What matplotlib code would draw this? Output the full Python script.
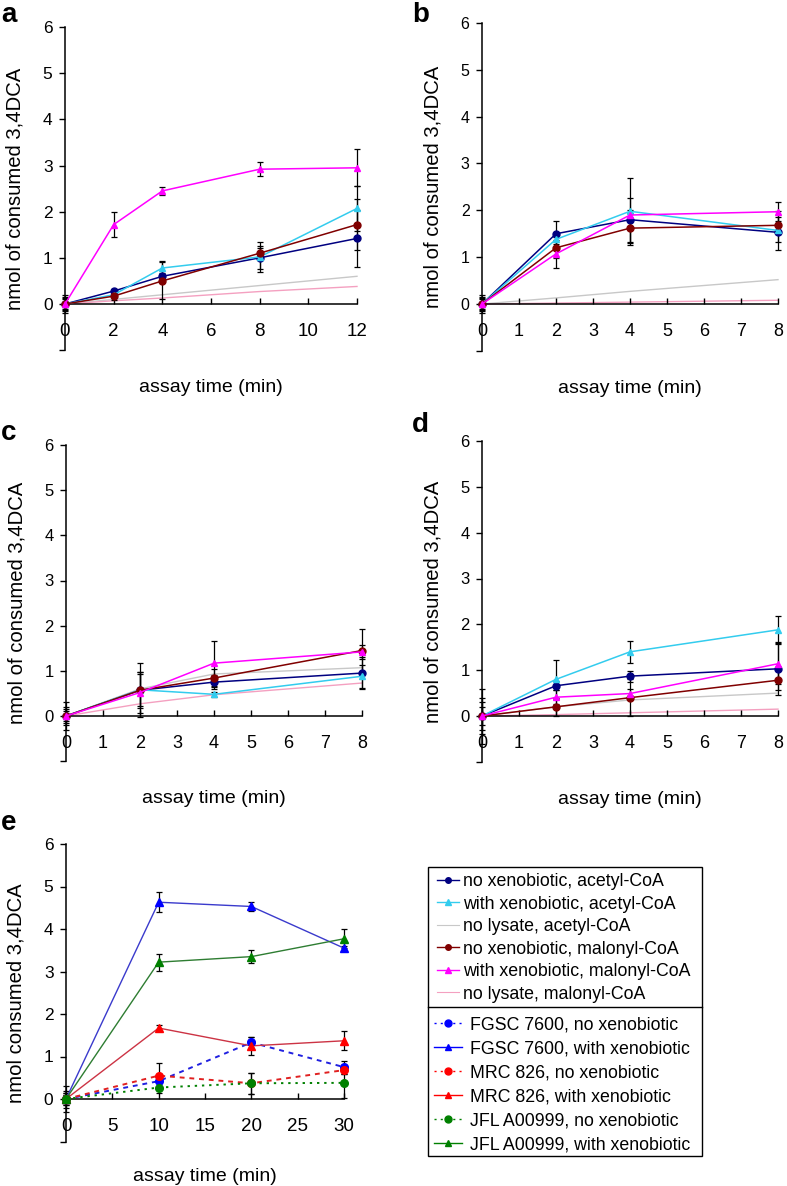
import matplotlib
matplotlib.use("Agg")
import matplotlib.pyplot as plt
from matplotlib.lines import Line2D
from matplotlib.patches import Rectangle

plt.rcParams['font.family'] = ['Liberation Sans', 'DejaVu Sans']

# series of panels a-d (same order in every panel)
series_labels = ["no xenobiotic, acetyl-CoA", "with xenobiotic, acetyl-CoA",
                 "no lysate, acetyl-CoA", "no xenobiotic, malonyl-CoA",
                 "with xenobiotic, malonyl-CoA", "no lysate, malonyl-CoA"]

time_a = [0, 2, 4, 8, 12]
time_bcd = [0, 2, 4, 8]

vals_a = [[0, 0.28, 0.60, 1.00, 1.42],
          [0, 0.20, 0.78, 1.02, 2.07],
          [0, 0.10, 0.20, 0.40, 0.60],
          [0, 0.17, 0.50, 1.10, 1.72],
          [0, 1.72, 2.45, 2.92, 2.95],
          [0, 0.07, 0.13, 0.27, 0.38]]
err_a = [[0.20, 0.05, 0.08, 0.25, 0.62],
         [0.15, 0.05, 0.15, 0.32, 0.48],
         None,
         [0.10, 0.08, 0.40, 0.12, 0.55],
         [0.12, 0.27, 0.08, 0.15, 0.40],
         None]

vals_b = [[0, 1.50, 1.80, 1.53],
          [0, 1.38, 1.98, 1.57],
          [0, 0.13, 0.27, 0.52],
          [0, 1.20, 1.62, 1.68],
          [0, 1.07, 1.90, 1.97],
          [0, 0.02, 0.04, 0.08]]
err_b = [[0.20, 0.28, 0.47, 0.20],
         [0.15, 0.10, 0.72, 0.42],
         None,
         [0.12, 0.22, 0.32, 0.18],
         [0.10, 0.30, 0.10, 0.20],
         None]

vals_c = [[0, 0.57, 0.75, 0.95],
          [0, 0.58, 0.48, 0.88],
          [0, 0.60, 0.93, 1.07],
          [0, 0.57, 0.84, 1.45],
          [0, 0.52, 1.17, 1.42],
          [0, 0.27, 0.47, 0.73]]
err_c = [[0.20, 0.35, 0.15, 0.35],
         [0.15, 0.40, 0.05, 0.25],
         None,
         [0.32, 0.60, 0.20, 0.47],
         [0.10, 0.45, 0.50, 0.15],
         None]

vals_d = [[0, 0.66, 0.87, 1.03],
          [0, 0.80, 1.40, 1.88],
          [0, 0.20, 0.35, 0.50],
          [0, 0.20, 0.40, 0.78],
          [0, 0.41, 0.49, 1.14],
          [0, 0.03, 0.07, 0.15]]
err_d = [[0.40, 0.10, 0.12, 0.58],
         [0.30, 0.42, 0.24, 0.30],
         None,
         [0.60, 0.20, 0.40, 0.22],
         [0.20, 0.15, 0.10, 0.45],
         None]

series_colors = ['#000080', '#33CCEE', '#C8C8C8', '#800000', '#FF00FF', '#F4A0C0']
series_markers = ['o', '^', None, 'o', '^', None]

# panel e
strain_labels = ["FGSC 7600, no xenobiotic", "FGSC 7600, with xenobiotic",
                 "MRC 826, no xenobiotic", "MRC 826, with xenobiotic",
                 "JFL A00999, no xenobiotic", "JFL A00999, with xenobiotic"]
time_e = [0, 10, 20, 30]
vals_e = [[0, 0.42, 1.33, 0.75],
          [0, 4.63, 4.53, 3.55],
          [0, 0.55, 0.37, 0.68],
          [0, 1.67, 1.25, 1.37],
          [0, 0.27, 0.37, 0.38],
          [0, 3.22, 3.35, 3.77]]
err_e = [[0.15, 0.05, 0.12, 0.15],
         [0.10, 0.23, 0.10, 0.05],
         [0.10, 0.30, 0.25, 0.10],
         [0.20, 0.08, 0.22, 0.22],
         [0.30, 0.12, 0.25, 0.36],
         [0.15, 0.20, 0.15, 0.22]]
strain_marker_colors = ['#0000FF', '#0000FF', '#FF0000', '#FF0000', '#008000', '#008000']
strain_line_colors = ['#2020E0', '#3A3ACC', '#E02020', '#CC3344', '#008000', '#2E7D32']
strain_markers = ['o', '^', 'o', '^', 'o', '^']
strain_styles = [(0, (2.5, 2.5)), '-', (0, (2.5, 2.5)), '-', (0, (1.2, 2.5)), '-']

fig = plt.figure(figsize=(7.87, 11.86), dpi=100)
W, H = 787.0, 1186.0


def make_ax(x0, x1, ytop, yzero):
    # pixel geometry -> axes covering y from -1 to 6
    unit = (yzero - ytop) / 6.0
    ybot = yzero + unit
    return fig.add_axes([x0 / W, 1 - ybot / H, (x1 - x0) / W, (ybot - ytop) / H])


def style(ax, xmax, xticks, fs_y, fs_x, ylabel, ylab_x):
    ax.set_xlim(0, xmax)
    ax.set_ylim(-1, 6)
    for s in ['top', 'right']:
        ax.spines[s].set_visible(False)
    ax.spines['bottom'].set_position(('data', 0))
    ax.spines['left'].set_linewidth(1.1)
    ax.spines['bottom'].set_linewidth(1.1)
    ax.set_yticks(range(-1, 7))
    ax.set_yticklabels([''] + [str(i) for i in range(7)])
    ax.set_xticks(xticks)
    ax.tick_params(axis='y', direction='out', length=4, width=1, labelsize=fs_y, pad=5)
    ax.tick_params(axis='x', direction='in', length=4, width=1, labelsize=fs_x, pad=14)
    ax.set_ylabel(ylabel, fontsize=14.6)
    ax.yaxis.set_label_coords(ylab_x, 0.5)
    ax.set_xlabel("assay time (min)", fontsize=14)
    ax.xaxis.set_label_coords(0.5, -0.09)


def draw_panel(ax, t, vals, errs):
    for v, e, c, m in zip(vals, errs, series_colors, series_markers):
        if e is not None:
            ax.errorbar(t, v, yerr=e, fmt='none', ecolor='black', elinewidth=0.9,
                        capsize=2, capthick=0.9, zorder=2, clip_on=False)
    for v, c, m in zip(vals, series_colors, series_markers):
        if m is None:
            ax.plot(t, v, color=c, lw=1.0, zorder=1, clip_on=False)
        else:
            ax.plot(t, v, color=c, lw=1.1, marker=m, ms=5, zorder=3, clip_on=False)


ax_a = make_ax(65, 357, 27, 304)
ax_b = make_ax(482, 778, 23, 304)
ax_c = make_ax(66, 362, 445, 716)
ax_d = make_ax(482, 778, 441, 716)
ax_e = make_ax(66, 344, 844, 1099)

style(ax_a, 12, [0, 2, 4, 6, 8, 10, 12], 12.5, 13.5, "nmol of consumed 3,4DCA", -0.137)
style(ax_b, 8, range(9), 11.5, 13, "nmol of consumed 3,4DCA", -0.135)
style(ax_c, 8, range(9), 12, 13, "nmol of consumed 3,4DCA", -0.135)
style(ax_d, 8, range(9), 12, 13, "nmol of consumed 3,4DCA", -0.135)
style(ax_e, 30, [0, 5, 10, 15, 20, 25, 30], 12.5, 13.5, "nmol consumed 3,4DCA", -0.147)

draw_panel(ax_a, time_a, vals_a, err_a)
draw_panel(ax_b, time_bcd, vals_b, err_b)
draw_panel(ax_c, time_bcd, vals_c, err_c)
draw_panel(ax_d, time_bcd, vals_d, err_d)

for v, e, mc, lc, m, ls in zip(vals_e, err_e, strain_marker_colors, strain_line_colors,
                              strain_markers, strain_styles):
    ax_e.errorbar(time_e, v, yerr=e, fmt='none', ecolor='black', elinewidth=0.9,
                  capsize=2, capthick=0.9, zorder=2, clip_on=False)
    ax_e.plot(time_e, v, color=lc, lw=1.0 if ls == '-' else 1.4, ls=ls, zorder=3, clip_on=False)
    ax_e.plot(time_e, v, color=mc, lw=0, marker=m, ms=5.5, zorder=4, clip_on=False)

# panel letters
for txt, x, y in [('a', 1, 2), ('b', 412, 2), ('c', 1, 420), ('d', 412, 412), ('e', 1, 810)]:
    fig.text(x / W, 1 - y / H, txt, fontsize=20, fontweight='bold', va='top', ha='left')

# legend box
fig.add_artist(Rectangle((428 / W, 1 - 1156 / H), (702 - 428) / W, (1156 - 867) / H,
                         transform=fig.transFigure, fill=False, ec='black', lw=1.0))
fig.add_artist(Line2D([428 / W, 702 / W], [1 - 1007 / H, 1 - 1007 / H],
                      transform=fig.transFigure, color='black', lw=1.0))

h1 = [Line2D([], [], color=c, marker=m, ms=4, lw=1.0 if m else 0.8)
      for c, m in zip(series_colors, series_markers)]
fig.legend(h1, series_labels, loc='upper left', bbox_to_anchor=(437 / W, 1 - 873 / H),
           frameon=False, fontsize=12.8, handlelength=1.25, handletextpad=0.2,
           labelspacing=0.31, borderpad=0, borderaxespad=0)
h2 = [Line2D([], [], color=mc, marker=m, ms=5, lw=1.0,
             ls=(0, (1.5, 3)) if ls != '-' else '-')
      for mc, m, ls in zip(strain_marker_colors, strain_markers, strain_styles)]
fig.legend(h2, strain_labels, loc='upper left', bbox_to_anchor=(434 / W, 1 - 1016 / H),
           frameon=False, fontsize=12.8, handlelength=1.55, handletextpad=0.45,
           labelspacing=0.40, borderpad=0, borderaxespad=0)

fig.savefig("out.png", dpi=100)
